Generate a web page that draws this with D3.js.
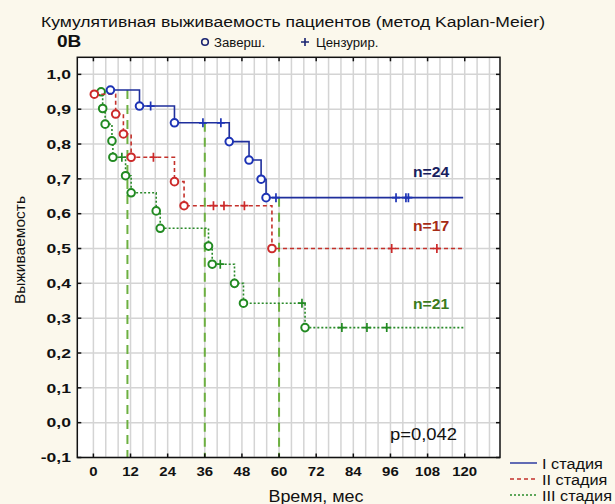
<!DOCTYPE html>
<html>
<head>
<meta charset="utf-8">
<script src="https://cdn.jsdelivr.net/npm/d3@7"></script>
<style>
  body { margin: 0; background: #fbf8ec; }
  svg { display: block; }
  text { font-family: "Liberation Sans", Arial, sans-serif; }
</style>
</head>
<body>
<svg id="chart" width="615" height="504"></svg>
<script>
// ---- data ----------------------------------------------------------------
const timeTicks = [0, 12, 24, 36, 48, 60, 72, 84, 96, 108, 120];
const survivalTicks = [-0.1, 0.0, 0.1, 0.2, 0.3, 0.4, 0.5, 0.6, 0.7, 0.8, 0.9, 1.0];

const stageNames = ["I стадия", "II стадия", "III стадия"];
const stageCounts = [24, 17, 21];

// events (completed): [month, cumulative survival]
const stage1Events = [[5.5, 0.955], [14.9, 0.909], [26.2, 0.861], [43.9, 0.807], [50.3, 0.754], [54.2, 0.699], [55.8, 0.646]];
const stage1Censored = [[18.5, 0.909], [35.4, 0.861], [41.2, 0.861], [59.0, 0.646], [97.8, 0.646], [101.0, 0.646], [101.8, 0.646]];
const stage1LastFollowUp = 119.5;

const stage2Events = [[0.3, 0.943], [7.2, 0.886], [9.7, 0.829], [12.2, 0.762], [26.2, 0.692], [29.3, 0.623], [57.7, 0.500]];
const stage2Censored = [[19.4, 0.762], [38.8, 0.623], [42.2, 0.623], [48.8, 0.623], [96.4, 0.500], [111.0, 0.500]];
const stage2LastFollowUp = 119.1;

const stage3Events = [[2.5, 0.950], [3.0, 0.902], [3.8, 0.857], [6.0, 0.809], [6.3, 0.762], [10.4, 0.709], [12.2, 0.660], [20.3, 0.608], [21.6, 0.558], [37.2, 0.507], [38.4, 0.455], [45.6, 0.400], [48.5, 0.343], [68.4, 0.273]];
const stage3Censored = [[9.2, 0.762], [41.0, 0.455], [67.4, 0.343], [80.3, 0.273], [88.4, 0.273], [94.8, 0.273]];
const stage3LastFollowUp = 119.6;

// 1-, 3- and 5-year reference marks (months)
const markerMonths = [11, 36, 60];
const pValueText = "p=0,042";

// ---- layout --------------------------------------------------------------
const svg = d3.select("#chart");
const frame = { left: 77.3, right: 500, top: 57.3, bottom: 457.5 };

const x = d3.scaleLinear().domain([-5.2, 131.4]).range([frame.left, frame.right]);
const y = d3.scaleLinear().domain([-0.1, 1.049]).range([frame.bottom, frame.top]);

const fmt = d => d3.format(".1f")(d).replace(".", ",").replace("−", "-");

function widen(sel, k) {
  sel.each(function () {
    const len = this.getComputedTextLength();
    this.setAttribute("textLength", len * k);
    this.setAttribute("lengthAdjust", "spacingAndGlyphs");
  });
  return sel;
}

const stages = [
  { name: stageNames[0], n: stageCounts[0], events: stage1Events, censored: stage1Censored, end: stage1LastFollowUp,
    color: "#1f2f9c", marker: "#1d33b5", dash: null, labelColor: "#17205e", labelY: 0.720 },
  { name: stageNames[1], n: stageCounts[1], events: stage2Events, censored: stage2Censored, end: stage2LastFollowUp,
    color: "#c4312b", marker: "#cc2a2a", dash: "4,3", labelColor: "#a62b16", labelY: 0.565 },
  { name: stageNames[2], n: stageCounts[2], events: stage3Events, censored: stage3Censored, end: stage3LastFollowUp,
    color: "#2a8a2a", marker: "#228a22", dash: "2,2", labelColor: "#3b7a1c", labelY: 0.340 }
];

// plot background
svg.append("rect")
  .attr("x", frame.left).attr("y", frame.top)
  .attr("width", frame.right - frame.left).attr("height", frame.bottom - frame.top)
  .attr("fill", "#ffffff");

// grid
const grid = svg.append("g").attr("stroke", "#d4d4d4").attr("stroke-width", 1.5);
grid.selectAll("line.v").data(d3.range(0, 129, 4)).join("line")
  .attr("x1", d => x(d)).attr("x2", d => x(d))
  .attr("y1", frame.top).attr("y2", frame.bottom);
grid.selectAll("line.h").data(survivalTicks).join("line")
  .attr("x1", frame.left).attr("x2", frame.right)
  .attr("y1", d => y(d)).attr("y2", d => y(d));

// survival step curves
function curvePoints(s) {
  const pts = s.events.slice();
  pts.push([s.end, s.events[s.events.length - 1][1]]);
  return pts;
}
function survivalAt(s, t) {
  let v = s.events[0][1];
  s.events.forEach(e => { if (e[0] <= t) v = e[1]; });
  return v;
}
const line = d3.line().x(d => x(d[0])).y(d => y(d[1])).curve(d3.curveStepAfter);

// reference marks for the I stage curve
svg.append("g").selectAll("line").data(markerMonths).join("line")
  .attr("x1", d => x(d)).attr("x2", d => x(d))
  .attr("y1", d => y(survivalAt(stages[0], d))).attr("y2", frame.bottom)
  .attr("stroke", "#6db041").attr("stroke-width", 2).attr("stroke-dasharray", "9,6");

stages.slice().reverse().forEach(s => {
  const g = svg.append("g");
  g.append("path")
    .attr("d", line(curvePoints(s)))
    .attr("fill", "none").attr("stroke", s.color).attr("stroke-width", 1.6)
    .attr("stroke-dasharray", s.dash);
  g.selectAll("path.cens").data(s.censored).join("path")
    .attr("d", d => `M${x(d[0]) - 4},${y(d[1])}H${x(d[0]) + 4}M${x(d[0])},${y(d[1]) - 4.5}V${y(d[1]) + 4.5}`)
    .attr("stroke", s.marker).attr("stroke-width", 1.7).attr("fill", "none");
  g.selectAll("circle").data(s.events).join("circle")
    .attr("cx", d => x(d[0])).attr("cy", d => y(d[1])).attr("r", 3.8)
    .attr("fill", "#ffffff").attr("stroke", s.marker).attr("stroke-width", 2);
});

// frame and inward ticks
svg.append("rect")
  .attr("x", frame.left).attr("y", frame.top)
  .attr("width", frame.right - frame.left).attr("height", frame.bottom - frame.top)
  .attr("fill", "none").attr("stroke", "#111").attr("stroke-width", 1.5);
const ticks = svg.append("g").attr("stroke", "#111").attr("stroke-width", 1.5);
ticks.selectAll("line.b").data(timeTicks).join("line")
  .attr("x1", d => x(d)).attr("x2", d => x(d)).attr("y1", frame.bottom).attr("y2", frame.bottom - 4);
ticks.selectAll("line.t").data(timeTicks).join("line")
  .attr("x1", d => x(d)).attr("x2", d => x(d)).attr("y1", frame.top).attr("y2", frame.top + 4);
ticks.selectAll("line.l").data(survivalTicks).join("line")
  .attr("x1", frame.left).attr("x2", frame.left + 4).attr("y1", d => y(d)).attr("y2", d => y(d));
ticks.selectAll("line.r").data(survivalTicks).join("line")
  .attr("x1", frame.right).attr("x2", frame.right - 4).attr("y1", d => y(d)).attr("y2", d => y(d));

// tick labels
widen(svg.append("g").selectAll("text").data(survivalTicks).join("text")
  .attr("x", 71).attr("y", d => y(d)).attr("dy", "0.36em")
  .attr("text-anchor", "end").attr("font-size", 13).attr("font-weight", "bold").attr("fill", "#111")
  .text(fmt), 1.35);
widen(svg.append("g").selectAll("text").data(timeTicks).join("text")
  .attr("x", d => x(d)).attr("y", 476)
  .attr("text-anchor", "middle").attr("font-size", 13).attr("font-weight", "bold").attr("fill", "#111")
  .text(d => d), 1.15);

// axis titles
widen(svg.append("text").attr("x", 316).attr("y", 502).attr("text-anchor", "middle")
  .attr("font-size", 16).attr("fill", "#111").text("Время, мес"), 1.12);
svg.append("text").attr("transform", "translate(25,250) rotate(-90)")
  .attr("text-anchor", "middle").attr("font-size", 15).attr("fill", "#111")
  .attr("font-family", "'Liberation Sans Narrow', 'Liberation Sans', Arial")
  .attr("textLength", 108).attr("lengthAdjust", "spacingAndGlyphs")
  .text("Выживаемость");

// title
widen(svg.append("text").attr("x", 41).attr("y", 27).attr("font-size", 15.5).attr("fill", "#111")
  .text("Кумулятивная выживаемость пациентов (метод Kaplan-Meier)"), 1.13);
widen(svg.append("text").attr("x", 57).attr("y", 47).attr("font-size", 17).attr("font-weight", "bold").attr("fill", "#111")
  .text("0B"), 1.12);

// marker legend
svg.append("circle").attr("cx", 205).attr("cy", 42).attr("r", 3.3)
  .attr("fill", "none").attr("stroke", "#1a2472").attr("stroke-width", 1.6);
widen(svg.append("text").attr("x", 214).attr("y", 46.5).attr("font-size", 12).attr("fill", "#111").text("Заверш."), 1.1);
svg.append("path").attr("d", "M301,42H309M305,38V46").attr("stroke", "#1a2472").attr("stroke-width", 1.6);
widen(svg.append("text").attr("x", 316).attr("y", 46.5).attr("font-size", 12).attr("fill", "#111").text("Цензурир."), 1.1);

// group size labels
stages.forEach(s => {
  widen(svg.append("text").attr("x", 413).attr("y", y(s.labelY)).attr("dy", "0.36em")
    .attr("font-size", 14).attr("font-weight", "bold").attr("fill", s.labelColor)
    .text("n=" + s.n), 1.12);
});

// p-value
widen(svg.append("text").attr("x", 390).attr("y", 440).attr("font-size", 16).attr("fill", "#111").text(pValueText), 1.15);

// series legend
const leg = svg.append("g").selectAll("g").data(stages).join("g")
  .attr("transform", (d, i) => `translate(510,${463 + i * 16})`);
leg.append("line").attr("x1", 0).attr("x2", 27).attr("y1", 0).attr("y2", 0)
  .attr("stroke", d => d.color).attr("stroke-width", 1.4).attr("stroke-dasharray", d => d.dash);
leg.each(function (d) {
  widen(d3.select(this).append("text").attr("x", 32).attr("y", 5.5)
    .attr("font-size", 15.5).attr("fill", "#111").text(d.name), 1.05);
});
</script>
</body>
</html>
